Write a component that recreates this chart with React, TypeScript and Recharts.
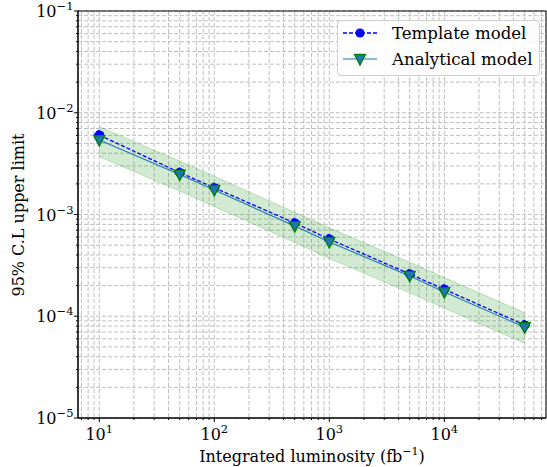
import React from "react";
import { ComposedChart, Line, Area, XAxis, YAxis, CartesianGrid } from "recharts";

// ── Data ───────────────────────────────────────────────────────────────
const luminosity = [10, 50, 100, 500, 1000, 5000, 10000, 50000];
const templateLimit = [6.04e-3, 2.58e-3, 1.83e-3, 8.24e-4, 5.74e-4, 2.6e-4, 1.84e-4, 8.2e-5];
const analyticalLimit = [5.39e-3, 2.47e-3, 1.74e-3, 7.7e-4, 5.37e-4, 2.49e-4, 1.73e-4, 7.8e-5];
const bandUpper = [7.3e-3, 3.35e-3, 2.38e-3, 1.05e-3, 7.4e-4, 3.4e-4, 2.4e-4, 1.08e-4];
const bandLower = [3.7e-3, 1.7e-3, 1.2e-3, 5.3e-4, 3.7e-4, 1.7e-4, 1.2e-4, 5.4e-5];

const xDomain = [6.53, 76500];
const yDomain = [1e-5, 1e-1];
const xDecades = [1, 10, 100, 1000, 10000];
const yDecades = [1e-5, 1e-4, 1e-3, 1e-2];
const mantissas = [1, 2, 3, 4, 5, 6, 7, 8, 9];

const xTicks = xDecades
  .flatMap((d) => mantissas.map((m) => m * d))
  .filter((v) => v >= xDomain[0] && v <= xDomain[1]);
const yTicks = [...yDecades.flatMap((d) => mantissas.map((m) => m * d)), 1e-1];

const rows = luminosity.map((lum, i) => ({
  lum,
  template: templateLimit[i],
  analytical: analyticalLimit[i],
  band: [bandLower[i], bandUpper[i]],
}));

const FONT = "'DejaVu Serif', serif";
const isMajor = (v: number) => Math.abs(Math.log10(v) - Math.round(Math.log10(v))) < 1e-9;
const expOf = (v: number) => Math.round(Math.log10(v));
const fmtExp = (e: number) => (e < 0 ? `\u2212${-e}` : `${e}`);

// ── Ticks ──────────────────────────────────────────────────────────────
function XTick({ x, y, payload }: any) {
  const major = isMajor(payload.value);
  return (
    <g>
      <line x1={x} x2={x} y1={y} y2={y + (major ? 4 : 2)} stroke="#000" strokeWidth={1} />
      {major && (
        <text x={x} y={y + 22} textAnchor="middle" fontFamily={FONT} fontSize={16} fill="#000">
          10
          <tspan dy={-7} fontSize={11.5}>{fmtExp(expOf(payload.value))}</tspan>
        </text>
      )}
    </g>
  );
}

function YTick({ x, y, payload }: any) {
  const major = isMajor(payload.value);
  return (
    <g>
      <line x1={x} x2={x - (major ? 4 : 2)} y1={y} y2={y} stroke="#000" strokeWidth={1} />
      {major && (
        <text x={x - 4.5} y={y + 6} textAnchor="end" fontFamily={FONT} fontSize={16} fill="#000">
          10
          <tspan dy={-7} fontSize={11.5}>{fmtExp(expOf(payload.value))}</tspan>
        </text>
      )}
    </g>
  );
}

function TriangleDot({ cx, cy }: any) {
  if (cx == null || cy == null) return null;
  return (
    <polygon
      points={`${cx - 5.5},${cy - 4.5} ${cx + 5.5},${cy - 4.5} ${cx},${cy + 6}`}
      fill="#1f77b4"
      stroke="#008000"
      strokeWidth={1.3}
    />
  );
}

export default function App() {
  const W = 547;
  const H = 467;
  const left = 78;
  const top = 11;
  const right = 1;
  const bottom = 49;

  return (
    <div style={{ position: "fixed", left: 0, top: 0, width: W, height: H, background: "#fff" }}>
      <ComposedChart width={W} height={H} data={rows} margin={{ top, right, left: 0, bottom: 0 }}>
        <CartesianGrid stroke="#b8b8b8" strokeDasharray="4 2" strokeWidth={0.9} />
        <XAxis
          dataKey="lum"
          type="number"
          scale="log"
          domain={xDomain}
          allowDataOverflow
          ticks={xTicks}
          interval={0}
          height={bottom}
          tickSize={0}
          tickMargin={0}
          tickLine={false}
          axisLine={{ stroke: "#000" }}
          tick={<XTick />}
        />
        <YAxis
          type="number"
          scale="log"
          domain={yDomain}
          allowDataOverflow
          ticks={yTicks}
          interval={0}
          width={left}
          tickSize={0}
          tickMargin={0}
          tickLine={false}
          axisLine={{ stroke: "#000" }}
          tick={<YTick />}
        />
        <Area
          dataKey="band"
          type="linear"
          fill="#2ca02c"
          fillOpacity={0.22}
          stroke="#2ca02c"
          strokeOpacity={0.25}
          isAnimationActive={false}
        />
        <Line
          dataKey="template"
          type="linear"
          stroke="#0000ff"
          strokeWidth={1.3}
          strokeDasharray="4 2"
          dot={{ r: 4.6, fill: "#0000ff", stroke: "#0000ff", strokeWidth: 1 }}
          isAnimationActive={false}
        />
        <Line
          dataKey="analytical"
          type="linear"
          stroke="#1f77b4"
          strokeWidth={1.1}
          dot={<TriangleDot />}
          isAnimationActive={false}
        />
      </ComposedChart>

      {/* frame + axis titles */}
      <svg width={W} height={H} style={{ position: "absolute", left: 0, top: 0, pointerEvents: "none" }}>
        <rect x={left} y={top} width={W - left - right} height={H - top - bottom} fill="none" stroke="#000" strokeWidth={1} />
        <text
          x={0}
          y={0}
          transform={`translate(24, 215) rotate(-90)`}
          textAnchor="middle"
          fontFamily={FONT}
          fontSize={16}
          fill="#000"
        >
          95% C.L upper limit
        </text>
        <text x={312} y={462} textAnchor="middle" fontFamily={FONT} fontSize={16} fill="#000">
          Integrated luminosity (fb
          <tspan dy={-7} fontSize={11}>{"\u22121"}</tspan>
          <tspan dy={7}>)</tspan>
        </text>
      </svg>

      {/* legend */}
      <div
        style={{
          position: "absolute",
          left: 337,
          top: 20,
          width: 203,
          height: 56,
          border: "1px solid #d0d0d0",
          borderRadius: 4,
          background: "rgba(255,255,255,0.85)",
          boxSizing: "border-box",
        }}
      >
        <svg width={203} height={56} style={{ position: "absolute", left: -1, top: -1 }}>
          <line x1={6} x2={40} y1={13} y2={13} stroke="#0000ff" strokeWidth={1.3} strokeDasharray="4 2" />
          <circle cx={23} cy={13} r={4.6} fill="#0000ff" />
          <line x1={6} x2={40} y1={39} y2={39} stroke="#1f77b4" strokeWidth={1.1} />
          <TriangleDot cx={23} cy={39} />
          <text x={55} y={19} fontFamily={FONT} fontSize={16.6} fill="#000">Template model</text>
          <text x={55} y={45} fontFamily={FONT} fontSize={16.6} fill="#000">Analytical model</text>
        </svg>
      </div>
    </div>
  );
}
